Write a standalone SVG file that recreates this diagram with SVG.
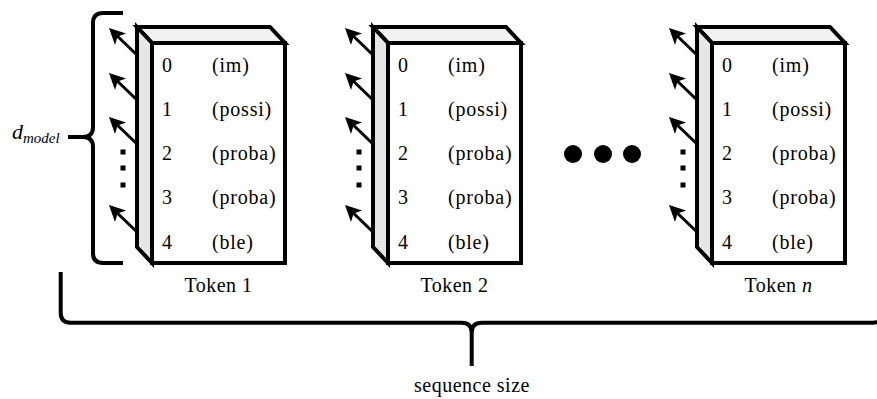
<svg xmlns="http://www.w3.org/2000/svg" width="877" height="399" viewBox="0 0 877 399">
  <defs>
    <style>
      .top { fill: #f1f1f1; stroke: #000; stroke-width: 4; stroke-linejoin: miter; }
      .side { fill: #e6e6e6; stroke: #000; stroke-width: 4; stroke-linejoin: miter; }
      .front { fill: #fff; stroke: #000; stroke-width: 4; }
      text { font-family: 'Liberation Serif', 'DejaVu Serif', serif; fill: #000; }
      .cell { font-size: 20px; letter-spacing: 0.8px; }
      .label { font-size: 20px; text-anchor: middle; letter-spacing: 0.5px; }
      .math { font-style: italic; }
      .arrow { stroke: #000; stroke-width: 3; fill: none; marker-end: url(#head); }
      .brace { stroke: #000; stroke-width: 4; fill: none; stroke-linecap: butt; }
      .dot { fill: #000; }
    </style>
    <marker id="head" markerUnits="userSpaceOnUse" markerWidth="24" markerHeight="24" viewBox="-12 -12 24 24" refX="0" refY="0" orient="auto">
      <path d="M10,0 L-6,-8 L-2,0 L-6,8 Z" fill="#000"/>
    </marker>
  </defs>

  <!-- d_model brace -->
  <g id="dmodel-brace">
    <path class="brace" d="M123,13 H103 Q93,13 93,23 V127 Q93,137 83,137 H68 M83,137 Q93,137 93,147 V253 Q93,263 103,263 H123"/>
    <text class="math" x="12" y="139" font-size="22">d<tspan font-size="15" dy="4">model</tspan></text>
  </g>

  <!-- sequence brace -->
  <g id="sequence-brace">
    <path class="brace" d="M60.7,272 V312.7 Q60.7,322.7 70.7,322.7 H461.7 Q471.7,322.7 471.7,332.7 V366 M471.7,332.7 Q471.7,322.7 481.7,322.7 H872.7 Q882.7,322.7 882.7,312.7 V272"/>
    <text class="label" x="472" y="392">sequence size</text>
  </g>

  <!-- Token 1 -->
  <g id="token1">
    <polygon class="top" points="137,27 270,27 285,43 152,43"/>
    <polygon class="side" points="137,27 152,43 152,263 137,247"/>
    <rect class="front" x="152" y="43" width="133" height="220"/>
    <text class="cell" x="162" y="71.5">0</text><text class="cell" x="212" y="71.5">(im)</text>
    <text class="cell" x="162" y="115.5">1</text><text class="cell" x="212" y="115.5">(possi)</text>
    <text class="cell" x="162" y="160">2</text><text class="cell" x="212" y="160">(proba)</text>
    <text class="cell" x="162" y="204">3</text><text class="cell" x="212" y="204">(proba)</text>
    <text class="cell" x="162" y="248.5">4</text><text class="cell" x="212" y="248.5">(ble)</text>
    <rect class="dot" x="120.5" y="149.5" width="5" height="5"/>
    <rect class="dot" x="120.5" y="165.5" width="5" height="5"/>
    <rect class="dot" x="120.5" y="182.5" width="5" height="5"/>
    <text class="label" x="218.5" y="292">Token 1</text>
  </g>

  <!-- Token 2 -->
  <g id="token2">
    <polygon class="top" points="373,27 506,27 521,43 388,43"/>
    <polygon class="side" points="373,27 388,43 388,263 373,247"/>
    <rect class="front" x="388" y="43" width="133" height="220"/>
    <text class="cell" x="398" y="71.5">0</text><text class="cell" x="448" y="71.5">(im)</text>
    <text class="cell" x="398" y="115.5">1</text><text class="cell" x="448" y="115.5">(possi)</text>
    <text class="cell" x="398" y="160">2</text><text class="cell" x="448" y="160">(proba)</text>
    <text class="cell" x="398" y="204">3</text><text class="cell" x="448" y="204">(proba)</text>
    <text class="cell" x="398" y="248.5">4</text><text class="cell" x="448" y="248.5">(ble)</text>
    <rect class="dot" x="356.5" y="149.5" width="5" height="5"/>
    <rect class="dot" x="356.5" y="165.5" width="5" height="5"/>
    <rect class="dot" x="356.5" y="182.5" width="5" height="5"/>
    <text class="label" x="454.5" y="292">Token 2</text>
  </g>

  <!-- ellipsis between tokens -->
  <g id="ellipsis">
    <circle class="dot" cx="573" cy="154" r="9"/>
    <circle class="dot" cx="603" cy="154" r="9"/>
    <circle class="dot" cx="632" cy="154" r="9"/>
  </g>

  <!-- Token n -->
  <g id="token-n">
    <polygon class="top" points="697,27 830,27 845,43 712,43"/>
    <polygon class="side" points="697,27 712,43 712,263 697,247"/>
    <rect class="front" x="712" y="43" width="133" height="220"/>
    <text class="cell" x="722" y="71.5">0</text><text class="cell" x="772" y="71.5">(im)</text>
    <text class="cell" x="722" y="115.5">1</text><text class="cell" x="772" y="115.5">(possi)</text>
    <text class="cell" x="722" y="160">2</text><text class="cell" x="772" y="160">(proba)</text>
    <text class="cell" x="722" y="204">3</text><text class="cell" x="772" y="204">(proba)</text>
    <text class="cell" x="722" y="248.5">4</text><text class="cell" x="772" y="248.5">(ble)</text>
    <rect class="dot" x="680.5" y="149.5" width="5" height="5"/>
    <rect class="dot" x="680.5" y="165.5" width="5" height="5"/>
    <rect class="dot" x="680.5" y="182.5" width="5" height="5"/>
    <text class="label" x="778.5" y="292">Token <tspan font-style="italic">n</tspan></text>
  </g>

  <!-- embedding arrows leaving each token -->
  <g id="connectors">
    <path class="arrow" d="M137,55 L116.2,35"/>
    <path class="arrow" d="M137,100 L116.2,80"/>
    <path class="arrow" d="M137,144 L116.2,124"/>
    <path class="arrow" d="M137,232 L116.2,212"/>
    <path class="arrow" d="M373,55 L352.2,35"/>
    <path class="arrow" d="M373,100 L352.2,80"/>
    <path class="arrow" d="M373,144 L352.2,124"/>
    <path class="arrow" d="M373,232 L352.2,212"/>
    <path class="arrow" d="M697,55 L676.2,35"/>
    <path class="arrow" d="M697,100 L676.2,80"/>
    <path class="arrow" d="M697,144 L676.2,124"/>
    <path class="arrow" d="M697,232 L676.2,212"/>
  </g>
</svg>
